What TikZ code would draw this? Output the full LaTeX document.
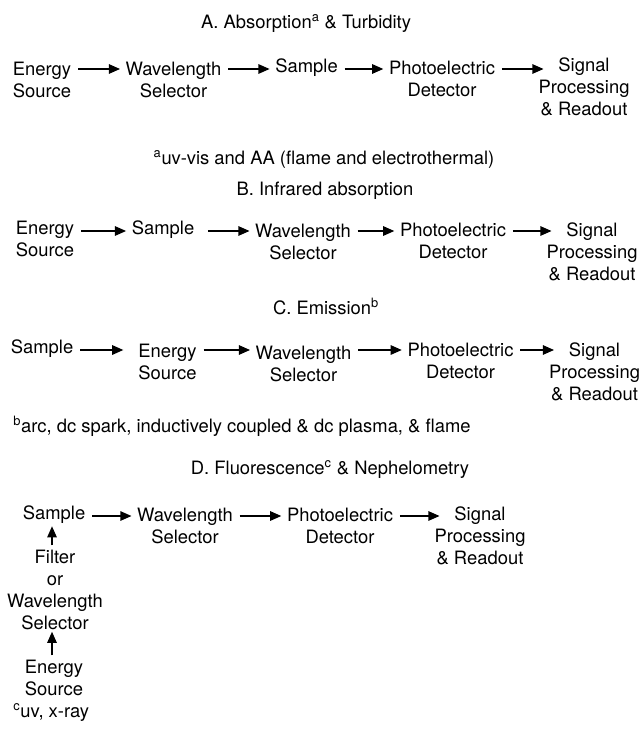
\documentclass[tikz,border=0pt]{standalone}
\usepackage{fontspec}
\setmainfont{TeX Gyre Heros}
\usetikzlibrary{arrows.meta}
\tikzset{
  stagenode/.style={align=center,inner sep=0pt},
  flowarrow/.style={-{Triangle[length=8.5pt,width=7pt]},line width=1.5pt,
    draw=black,shorten <=5pt,shorten >=4pt},
  intoreadout/.style={flowarrow,shorten >=-4pt},
  riseflow/.style={flowarrow,shorten <=3pt,shorten >=1.5pt},
  headline/.style={anchor=center,inner sep=0pt},
  footline/.style={anchor=west,inner sep=0pt}
}

\begin{document}
\begin{tikzpicture}[x=0.75pt,y=-0.75pt,font=\fontsize{13.8}{16.5}\selectfont]
\path[use as bounding box] (0,0) rectangle (642,731);
% A. absorption
\node[headline] (ttlA) at (306,24) {A. Absorption\textsuperscript{a} \& Turbidity};
\coordinate (rowA) at (0,69);
\node[stagenode] (esA) at (42,79.5) {Energy\\Source};
\node[stagenode] (wsA) at (173.5,79.5) {Wavelength\\Selector};
\node[stagenode] (saA) at (306.5,68) {Sample};
\node[stagenode] (pdA) at (442,78.5) {Photoelectric\\Detector};
\node[stagenode] (spA) at (584,86.5) {Signal\\Processing\\\& Readout};
\draw[flowarrow] (esA.east |- rowA) -- (wsA.west |- rowA);
\draw[flowarrow] (wsA.east |- rowA) -- (saA.west |- rowA);
\draw[flowarrow] (saA.east |- rowA) -- (pdA.west |- rowA);
\draw[intoreadout] (pdA.east |- rowA) -- (spA.west |- rowA);
\node[headline] (ftA) at (324,159) {\textsuperscript{a}uv-vis and AA (flame and electrothermal)};
% B. infrared
\node[headline] (ttlB) at (325,191) {B. Infrared absorption};
\coordinate (rowB) at (0,231);
\node[stagenode] (esB) at (45,239) {Energy\\Source};
\node[stagenode] (saB) at (163,230) {Sample};
\node[stagenode] (wsB) at (303,241.5) {Wavelength\\Selector};
\node[stagenode] (pdB) at (453,241) {Photoelectric\\Detector};
\node[stagenode] (spB) at (592,251.5) {Signal\\Processing\\\& Readout};
\draw[flowarrow] (esB.east |- rowB) -- (saB.west |- rowB);
\draw[flowarrow,shorten <=10pt] (saB.east |- rowB) -- (wsB.west |- rowB);
\draw[flowarrow] (wsB.east |- rowB) -- (pdB.west |- rowB);
\draw[intoreadout] (pdB.east |- rowB) -- (spB.west |- rowB);
% C. emission
\node[headline] (ttlC) at (326,306) {C. Emission\textsuperscript{b}};
\coordinate (rowC) at (0,350);
\node[stagenode] (saC) at (42,349) {Sample};
\node[stagenode] (esC) at (167.5,361.5) {Energy\\Source};
\node[stagenode] (wsC) at (303.5,363.5) {Wavelength\\Selector};
\node[stagenode] (pdC) at (460.5,360.5) {Photoelectric\\Detector};
\node[stagenode] (spC) at (594.5,371.5) {Signal\\Processing\\\& Readout};
\draw[flowarrow,shorten >=11pt] (saC.east |- rowC) -- (esC.west |- rowC);
\draw[flowarrow] (esC.east |- rowC) -- (wsC.west |- rowC);
\draw[flowarrow] (wsC.east |- rowC) -- (pdC.west |- rowC);
\draw[intoreadout] (pdC.east |- rowC) -- (spC.west |- rowC);
\node[footline] (ftB) at (13,426) {\textsuperscript{b}arc, dc spark, inductively coupled \& dc plasma, \& flame};
% D. fluorescence
\node[headline] (ttlD) at (330,470) {D. Fluorescence\textsuperscript{c} \& Nephelometry};
\coordinate (rowD) at (0,516);
\coordinate (colD) at (52,0);
\node[stagenode] (saD) at (54,515) {Sample};
\node[stagenode] (wsD) at (185,526) {Wavelength\\Selector};
\node[stagenode] (pdD) at (340,525.5) {Photoelectric\\Detector};
\node[stagenode] (spD) at (480,536) {Signal\\Processing\\\& Readout};
\node[stagenode] (fwD) at (55,589.5) {Filter\\or\\Wavelength\\Selector};
\node[stagenode] (esD) at (54,677.5) {Energy\\Source};
\draw[flowarrow] (saD.east |- rowD) -- (wsD.west |- rowD);
\draw[flowarrow] (wsD.east |- rowD) -- (pdD.west |- rowD);
\draw[intoreadout] (pdD.east |- rowD) -- (spD.west |- rowD);
\draw[riseflow] (fwD.north -| colD) -- (saD.south -| colD);
\draw[riseflow] (esD.north -| colD) -- (fwD.south -| colD);
\node[footline] (ftC) at (13,713) {\textsuperscript{c}uv, x-ray};
\end{tikzpicture}
\end{document}
